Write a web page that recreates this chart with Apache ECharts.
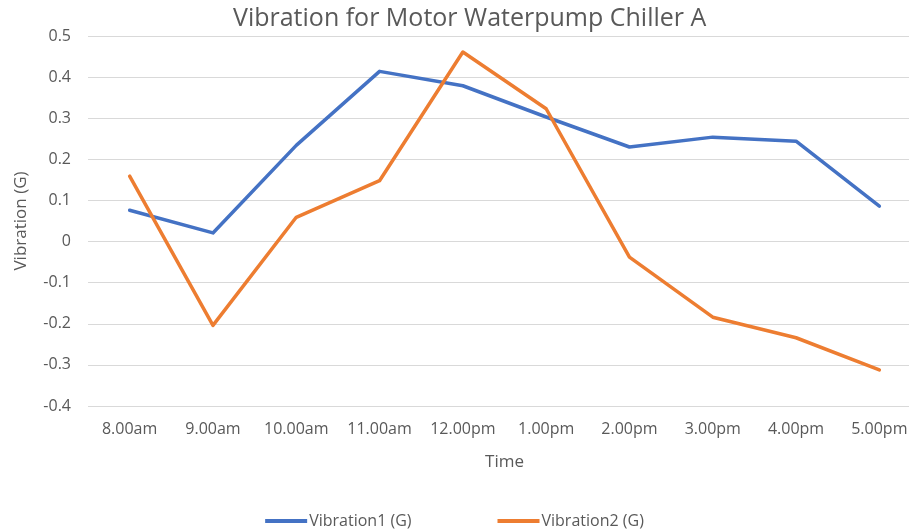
<!DOCTYPE html>
<html>
<head>
<meta charset="utf-8">
<script src="https://cdn.jsdelivr.net/npm/echarts@6/dist/echarts.min.js"></script>
<style>
  html, body { margin: 0; padding: 0; background: #fff; }
  #chart { width: 909px; height: 531px; }
</style>
</head>
<body>
<div id="chart"></div>
<script>
const categories = ['8.00am', '9.00am', '10.00am', '11.00am', '12.00pm', '1.00pm', '2.00pm', '3.00pm', '4.00pm', '5.00pm'];
const vibration1 = [0.076, 0.021, 0.234, 0.414, 0.379, 0.303, 0.230, 0.254, 0.244, 0.086];
const vibration2 = [0.159, -0.204, 0.059, 0.148, 0.461, 0.323, -0.038, -0.184, -0.234, -0.312];
const seriesNames = ['Vibration1 (G)', 'Vibration2 (G)'];

const font = '"Open Sans", "Noto Sans", sans-serif';
const grey = '#595959';

const myChart = echarts.init(document.getElementById('chart'));

const option = {
  animation: false,
  title: {
    text: 'Vibration for Motor Waterpump Chiller A',
    left: 228,
    top: 1,
    textStyle: { fontFamily: font, fontSize: 25, fontWeight: 'normal', color: grey }
  },
  legend: {
    bottom: -3,
    left: 'center',
    icon: 'rect',
    itemWidth: 42,
    itemHeight: 4,
    itemGap: 86,
    textStyle: { fontFamily: font, fontSize: 16, color: grey, padding: [0, 0, 0, -3] },
    data: seriesNames
  },
  grid: {
    left: 88,
    right: -12,
    top: 36,
    height: 370,
    outerBoundsMode: 'none'
  },
  xAxis: {
    type: 'category',
    data: categories,
    boundaryGap: true,
    name: 'Time',
    nameLocation: 'middle',
    nameGap: 48,
    nameTextStyle: { fontFamily: font, fontSize: 17, color: grey },
    axisLine: { show: false },
    axisTick: { show: false },
    axisLabel: { fontFamily: font, fontSize: 16, color: grey, margin: 15, interval: 0 }
  },
  yAxis: {
    type: 'value',
    min: -0.4,
    max: 0.5,
    interval: 0.1,
    name: 'Vibration (G)',
    nameLocation: 'middle',
    nameGap: 58,
    nameTextStyle: { fontFamily: font, fontSize: 17, color: grey },
    axisLine: { show: false },
    axisTick: { show: false },
    axisLabel: {
      fontFamily: font, fontSize: 16, color: grey, margin: 17,
      formatter: v => String(Math.round(v * 10) / 10)
    },
    splitLine: { lineStyle: { color: '#d9d9d9', width: 1 } }
  },
  series: [
    {
      name: seriesNames[0],
      type: 'line',
      data: vibration1,
      symbol: 'none',
      itemStyle: { color: '#4472C4' },
      lineStyle: { color: '#4472C4', width: 3.5, cap: 'round', join: 'round' }
    },
    {
      name: seriesNames[1],
      type: 'line',
      data: vibration2,
      symbol: 'none',
      itemStyle: { color: '#ED7D31' },
      lineStyle: { color: '#ED7D31', width: 3.5, cap: 'round', join: 'round' }
    }
  ]
};

myChart.setOption(option);
</script>
</body>
</html>
